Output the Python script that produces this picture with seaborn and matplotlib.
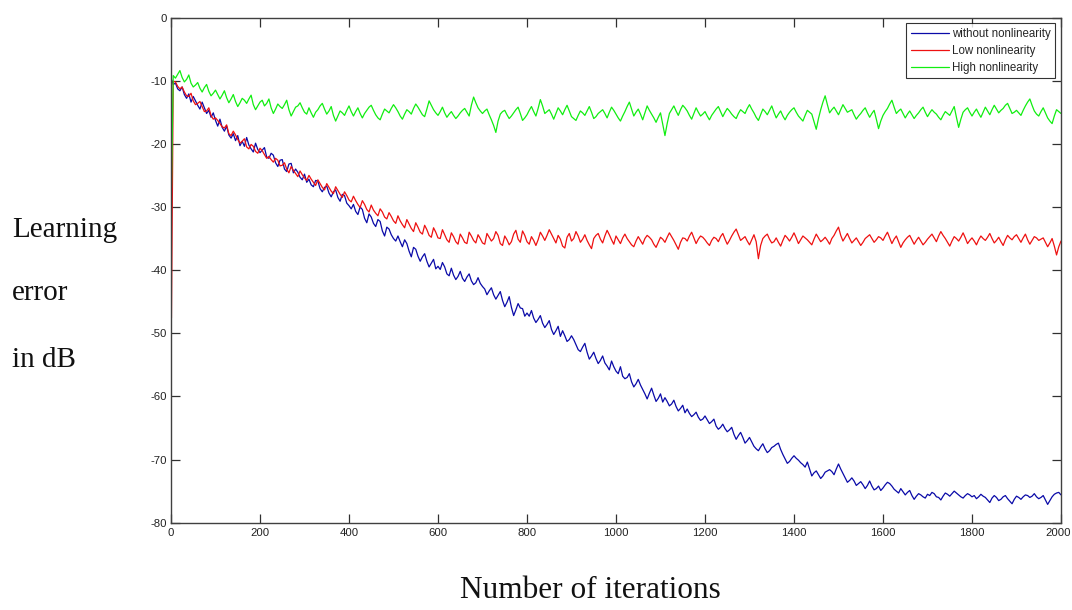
import numpy as np
import pandas as pd
import matplotlib
matplotlib.use("Agg")
import matplotlib.pyplot as plt
import matplotlib.transforms as mtransforms
import seaborn as sns

# ---------------- data ----------------
iterations = [1] + list(range(5, 2001, 5))

series_names = ["without nonlinearity", "Low nonlinearity", "High nonlinearity"]
series_colors = ["#0a0aa8", "#ee1111", "#11ee11"]

without_nl = [
    -9.8,
    -10.6, -10.4, -11.3, -11.6, -11.0, -12.2, -12.8, -12.1, -13.4, -12.5, -13.2, -13.9, -14.5, -13.4, -14.3, -15.2, -14.7, -15.8, -15.1, -16.3,
    -17.2, -16.1, -17.4, -18.0, -17.2, -18.6, -19.1, -18.4, -19.5, -18.7, -20.3, -19.6, -20.4, -19.0, -20.2, -20.8, -21.3, -19.9, -20.9, -21.4,
    -21.0, -20.6, -22.1, -22.3, -21.5, -21.8, -23.0, -23.6, -22.6, -22.5, -24.0, -24.4, -23.2, -23.1, -24.6, -24.0, -24.5, -25.3, -25.7, -24.8,
    -26.1, -25.6, -26.5, -26.8, -25.8, -25.9, -27.1, -27.6, -26.9, -26.7, -27.8, -28.4, -27.6, -27.3, -28.5, -29.1, -28.0, -28.2, -29.4, -29.8,
    -30.3, -29.6, -30.7, -31.2, -30.0, -30.4, -31.8, -32.5, -31.1, -31.6, -32.6, -33.1, -32.0, -32.3, -33.8, -34.6, -33.2, -33.5, -34.4, -35.0,
    -35.4, -34.6, -35.5, -36.3, -35.2, -35.8, -37.0, -37.9, -36.4, -36.7, -37.8, -38.6, -37.9, -37.4, -38.6, -39.5, -38.9, -38.3, -39.8, -39.4,
    -39.9, -38.8, -39.5, -40.6, -40.9, -39.7, -40.8, -41.5, -41.0, -40.2, -41.3, -41.8, -41.1, -40.6, -41.7, -42.3, -42.0, -41.2, -42.1, -42.6,
    -43.0, -43.9, -43.3, -42.8, -43.9, -44.6, -44.0, -43.4, -44.8, -45.8, -45.1, -44.2, -45.9, -47.2, -46.3, -45.3, -46.0, -46.1, -47.3, -46.8,
    -47.3, -46.4, -47.6, -48.3, -47.8, -47.2, -48.4, -49.1, -48.6, -48.0, -49.4, -50.2, -49.6, -48.9, -50.5, -49.6, -50.4, -51.3, -51.0, -50.4,
    -51.0, -51.8, -52.6, -52.9, -52.2, -51.6, -53.0, -54.1, -53.6, -53.0, -54.0, -54.8, -54.3, -53.6, -54.7, -55.2, -55.8, -54.4, -55.3, -56.0,
    -56.4, -55.3, -56.8, -57.2, -57.0, -56.4, -57.7, -58.5, -58.0, -57.3, -58.2, -58.9, -59.6, -60.4, -59.5, -58.7, -59.8, -60.8, -60.3, -59.6,
    -60.9, -60.2, -60.8, -61.5, -61.2, -60.6, -61.6, -62.3, -61.9, -61.4, -62.6, -62.0, -62.7, -63.2, -62.9, -62.5, -63.3, -63.8, -63.6, -63.1,
    -63.7, -64.3, -64.0, -63.6, -64.7, -65.2, -64.9, -64.4, -65.1, -65.6, -65.3, -64.9, -66.0, -66.8, -66.2, -65.7, -66.5, -67.4, -67.0, -66.5,
    -67.2, -67.9, -68.3, -68.6, -68.0, -67.5, -68.3, -68.9, -68.6, -68.1, -67.9, -67.6, -67.4, -68.4, -69.2, -69.9, -70.6, -70.3, -69.8, -69.4,
    -69.8, -70.1, -70.5, -70.8, -71.2, -70.4, -71.5, -72.6, -72.1, -71.8, -72.4, -73.0, -72.6, -72.0, -71.8, -71.6, -71.9, -72.4, -71.5, -70.7,
    -71.5, -72.2, -72.9, -73.6, -73.3, -72.9, -73.4, -74.1, -73.8, -73.5, -74.0, -74.6, -74.1, -73.4, -74.2, -74.8, -74.6, -74.2, -74.9, -74.5,
    -74.0, -73.6, -73.8, -74.2, -74.7, -75.0, -75.3, -74.6, -75.1, -75.6, -75.2, -74.9, -75.7, -76.3, -75.8, -75.4, -75.6, -75.9, -76.1, -75.5,
    -75.7, -75.2, -75.4, -75.9, -76.0, -76.4, -75.8, -75.3, -75.5, -75.8, -75.4, -75.0, -75.3, -75.6, -75.9, -76.1, -75.7, -75.4, -75.6, -75.9,
    -75.7, -76.2, -75.9, -75.5, -75.8, -76.0, -76.4, -76.8, -76.1, -75.7, -76.0, -76.5, -76.3, -75.9, -75.7, -76.2, -76.6, -77.0, -76.3, -75.8,
    -76.0, -76.3, -75.9, -75.6, -75.7, -76.0, -75.8, -75.4, -75.9, -76.2, -76.0, -75.7, -76.4, -77.1, -76.5, -75.9, -75.5, -75.3, -75.2, -75.6,
]

low_nl = [
    -47.6,
    -10.1, -10.2, -10.9, -11.3, -11.0, -11.8, -12.4, -12.5, -12.0, -13.2, -13.8, -13.6, -13.3, -14.1, -14.9, -14.8, -14.3, -15.5, -16.1, -15.9,
    -16.3, -16.8, -17.3, -17.5, -17.0, -18.4, -18.7, -18.0, -18.6, -19.3, -19.9, -19.6, -19.2, -20.5, -20.8, -20.1, -20.4, -21.2, -21.5, -20.7,
    -21.1, -21.7, -22.3, -22.0, -22.5, -22.9, -22.3, -22.6, -23.5, -23.4, -23.0, -24.0, -24.6, -23.6, -24.2, -24.7, -25.2, -24.3, -24.9, -25.4,
    -25.8, -25.0, -25.6, -26.1, -26.6, -25.7, -26.3, -26.9, -27.3, -26.3, -26.9, -27.5, -27.9, -26.8, -27.4, -28.0, -28.5, -27.6, -28.2, -28.9,
    -29.2, -28.3, -29.0, -29.6, -30.1, -29.0, -29.6, -30.4, -30.8, -29.7, -30.5, -31.0, -31.4, -30.3, -30.8, -31.6, -31.9, -30.9, -31.5, -32.2,
    -32.6, -31.4, -32.2, -32.8, -33.3, -32.0, -32.7, -33.4, -33.9, -32.5, -33.2, -34.0, -34.3, -32.9, -33.6, -34.5, -34.8, -33.3, -34.0, -34.9,
    -35.0, -33.6, -34.4, -35.2, -35.6, -34.1, -34.7, -35.5, -35.9, -34.3, -34.9, -35.6, -35.8, -34.0, -34.6, -35.3, -35.7, -34.4, -35.0, -35.7,
    -35.9, -34.2, -34.8, -35.4, -35.0, -33.9, -34.5, -35.8, -36.1, -34.6, -35.2, -36.0, -35.5, -34.3, -33.7, -35.1, -35.6, -33.8, -34.5, -35.5,
    -35.9, -34.7, -35.3, -36.1, -35.2, -34.0, -34.6, -35.3, -34.5, -33.6, -34.3, -35.0, -35.7, -34.5, -35.1, -36.2, -36.5, -34.8, -34.2, -35.4,
    -35.0, -33.9, -34.6, -35.6, -35.1, -34.4, -35.3, -36.0, -36.6, -35.0, -34.5, -34.2, -35.1, -35.7, -34.6, -33.7, -34.4, -35.2, -35.9, -34.6,
    -35.2, -35.8, -34.9, -34.3, -35.0, -35.5, -36.0, -36.3, -35.4, -34.7, -35.3, -35.9, -35.0, -34.5, -34.8, -35.2, -35.9, -36.4, -35.6, -34.8,
    -35.1, -35.6, -34.8, -34.1, -34.7, -35.3, -36.0, -36.7, -35.6, -34.9, -35.0, -35.4, -34.6, -34.0, -34.9, -35.8, -35.1, -34.6, -34.8, -35.2,
    -35.7, -36.1, -35.3, -34.8, -35.0, -35.5, -34.7, -34.2, -35.1, -35.9, -35.3, -34.6, -34.0, -33.5, -34.4, -35.3, -35.0, -34.7, -35.4, -36.0,
    -35.2, -34.4, -35.5, -38.2, -36.1, -35.0, -34.6, -34.3, -35.1, -35.7, -35.5, -34.9, -35.6, -36.2, -35.3, -34.5, -34.9, -35.4, -34.8, -34.1,
    -34.9, -35.8, -35.2, -34.6, -34.9, -35.2, -35.6, -36.0, -35.1, -34.3, -34.9, -35.5, -35.2, -34.8, -35.3, -35.9, -35.0, -34.5, -33.8, -33.2,
    -34.5, -35.4, -34.8, -34.2, -35.0, -35.7, -35.3, -34.9, -35.5, -36.1, -35.6, -35.0, -34.7, -34.4, -35.0, -35.6, -35.2, -34.7, -34.9, -35.3,
    -34.6, -34.0, -34.9, -35.8, -35.1, -34.6, -35.5, -36.4, -35.7, -35.2, -34.8, -34.5, -35.2, -35.9, -35.3, -34.8, -35.4, -36.0, -35.6, -35.1,
    -34.7, -34.3, -34.9, -35.5, -34.6, -33.9, -34.5, -35.0, -35.6, -36.2, -35.4, -34.7, -35.0, -35.4, -34.8, -34.1, -34.9, -35.8, -35.3, -34.9,
    -35.4, -36.0, -35.2, -34.6, -35.0, -35.3, -34.8, -34.2, -35.0, -35.7, -35.3, -34.8, -35.5, -36.1, -35.2, -34.5, -34.9, -35.2, -34.7, -34.4,
    -35.0, -35.6, -34.9, -34.3, -35.2, -35.9, -35.3, -34.7, -34.9, -35.3, -35.1, -34.9, -35.6, -36.3, -35.7, -35.0, -36.2, -37.6, -36.3, -35.4,
]

high_nl = [
    -27.0,
    -9.2, -9.6, -9.0, -8.4, -9.5, -10.2, -9.8, -9.1, -10.4, -11.0, -10.7, -10.3, -11.2, -11.8, -11.1, -10.6, -11.7, -12.4, -12.0, -11.5,
    -12.2, -12.9, -12.3, -11.6, -12.7, -13.5, -12.9, -12.2, -13.3, -14.1, -13.5, -12.8, -13.1, -13.6, -12.9, -12.3, -13.8, -14.6, -14.0, -13.4,
    -13.1, -14.0, -13.6, -12.9, -14.3, -15.2, -14.5, -13.7, -14.1, -14.4, -13.8, -13.1, -14.6, -15.6, -14.9, -14.2, -14.0, -13.5, -14.3, -15.0,
    -15.3, -14.3, -15.1, -15.8, -15.0, -14.6, -14.0, -13.6, -14.5, -15.3, -14.8, -14.1, -15.5, -16.4, -15.6, -14.8, -15.1, -15.5, -14.7, -14.0,
    -14.9, -15.6, -14.9, -14.3, -15.2, -15.9, -15.2, -14.7, -14.2, -13.9, -14.7, -15.4, -15.9, -16.2, -15.3, -14.5, -14.8, -15.1, -14.4, -13.8,
    -14.3, -14.9, -15.6, -16.1, -15.3, -14.6, -14.9, -15.3, -14.4, -13.7, -14.2, -14.8, -15.4, -15.7, -14.5, -13.2, -13.9, -14.6, -15.1, -15.5,
    -14.9, -14.2, -15.1, -15.8, -15.3, -14.9, -15.5, -16.0, -15.6, -15.1, -14.7, -14.4, -15.0, -15.6, -13.9, -12.6, -13.5, -14.3, -14.8, -15.2,
    -14.8, -14.5, -15.4, -16.2, -17.1, -18.2, -16.4, -15.3, -14.9, -14.7, -15.4, -16.0, -15.6, -15.1, -14.6, -14.2, -15.2, -16.3, -15.9, -15.4,
    -14.7, -14.1, -14.9, -15.6, -14.4, -13.0, -14.0, -15.2, -14.9, -14.6, -15.3, -16.1, -15.2, -14.3, -14.8, -15.4, -14.6, -13.9, -14.8, -15.7,
    -16.0, -16.3, -15.5, -14.8, -15.1, -15.5, -14.8, -14.1, -15.0, -16.0, -15.7, -15.2, -14.9, -14.6, -15.2, -15.9, -15.0, -14.2, -14.7, -15.3,
    -15.9, -16.4, -15.6, -14.9, -14.1, -13.4, -14.5, -15.6, -15.0, -14.5, -15.3, -16.2, -15.1, -14.0, -14.7, -15.3, -15.9, -16.6, -15.8, -15.1,
    -16.9, -18.7, -16.8, -15.2, -14.6, -14.0, -14.8, -15.5, -14.6, -13.9, -14.3, -14.8, -15.5, -16.1, -15.2, -14.3, -15.0, -15.6, -15.3, -14.9,
    -15.6, -16.2, -15.5, -15.0, -14.5, -14.1, -14.9, -15.7, -15.0, -14.4, -14.8, -15.3, -15.7, -16.0, -15.2, -14.6, -14.9, -15.2, -14.4, -13.8,
    -14.5, -15.1, -15.8, -16.3, -15.4, -14.5, -14.9, -15.4, -14.7, -14.0, -15.0, -15.9, -15.3, -14.8, -15.6, -16.2, -15.5, -15.0, -14.6, -14.3,
    -15.0, -15.6, -16.0, -16.4, -15.5, -14.7, -15.0, -15.3, -16.5, -17.7, -16.0, -14.6, -13.4, -12.4, -13.8, -15.1, -14.6, -14.2, -14.8, -15.4,
    -14.6, -13.8, -14.4, -15.0, -14.8, -14.6, -15.4, -16.1, -15.6, -15.2, -14.7, -14.3, -15.1, -15.8, -15.2, -14.7, -16.1, -17.6, -16.4, -15.5,
    -14.9, -14.4, -13.7, -13.1, -14.2, -15.2, -14.8, -14.5, -15.2, -15.9, -15.3, -14.8, -15.4, -16.0, -15.5, -15.1, -14.6, -14.2, -15.0, -15.7,
    -15.1, -14.6, -15.0, -15.3, -15.8, -16.2, -15.5, -14.9, -15.2, -15.5, -14.8, -14.1, -15.8, -17.4, -16.1, -15.0, -14.6, -14.3, -15.0, -15.6,
    -15.0, -14.5, -15.2, -15.8, -15.0, -14.2, -14.8, -15.4, -14.6, -13.9, -14.5, -15.1, -14.7, -14.4, -13.9, -13.6, -14.4, -15.2, -15.0, -14.7,
    -15.1, -15.5, -14.7, -14.0, -13.4, -12.9, -13.9, -14.8, -15.3, -15.6, -14.9, -14.3, -15.1, -15.9, -16.4, -16.8, -15.6, -14.6, -14.9, -15.2,
]

x_ticks = [0, 200, 400, 600, 800, 1000, 1200, 1400, 1600, 1800, 2000]
y_ticks = [0, -10, -20, -30, -40, -50, -60, -70, -80]
ylabel_lines = ["Learning", "error", "in dB"]
xlabel_text = "Number of iterations"

# ---------------- build long table ----------------
frames = []
for name, vals in zip(series_names, [without_nl, low_nl, high_nl]):
    frames.append(pd.DataFrame({"iteration": iterations, "error": vals, "series": name}))
df = pd.concat(frames, ignore_index=True)

# ---------------- plot ----------------
sns.set_style("white")
plt.rcParams["font.family"] = ["Liberation Sans", "DejaVu Sans"]

fig = plt.figure(figsize=(10.72, 6.10), dpi=100)
ax = fig.add_axes([171 / 1072, 1 - 522.7 / 610, 890 / 1072, 505.2 / 610])

sns.lineplot(data=df, x="iteration", y="error", hue="series",
             hue_order=series_names, palette=series_colors,
             estimator=None, sort=False, linewidth=0.9, ax=ax)

ax.set_xlim(0, 2000)
ax.set_ylim(-80, 0)
ax.set_xticks(x_ticks)
ax.set_yticks(y_ticks)
ax.set_xticklabels([str(t) for t in x_ticks])
ax.set_yticklabels([str(t) for t in y_ticks])
ax.set_xlabel("")
ax.set_ylabel("")

for sp in ax.spines.values():
    sp.set_visible(True)
    sp.set_color("#404040")
    sp.set_linewidth(1.0)

ax.tick_params(axis="both", which="both", direction="in", length=6.5, width=0.9,
               color="#303030", labelsize=8.2, labelcolor="#222222",
               top=True, right=True, bottom=True, left=True)
ax.tick_params(axis="x", pad=4)
ax.tick_params(axis="y", pad=3)

# keep the rightmost x tick label fully inside the canvas
last_lab = ax.get_xticklabels()[-1]
last_lab.set_transform(last_lab.get_transform() +
                       mtransforms.ScaledTranslation(-2.5 / 100, 0, fig.dpi_scale_trans))

leg = ax.legend(loc="upper right", fontsize=8.3, frameon=True, fancybox=False,
                handlelength=3.3, handletextpad=0.25, borderpad=0.4,
                labelspacing=0.42, borderaxespad=0.5, title=None)
leg.get_frame().set_edgecolor("#000000")
leg.get_frame().set_linewidth(0.8)
for line in leg.get_lines():
    line.set_linewidth(0.9)

# y label as three separate serif lines
ylab_y = [237, 300, 367]
for txt, py in zip(ylabel_lines, ylab_y):
    fig.text(12 / 1072, 1 - py / 610, txt, ha="left", va="baseline",
             fontsize=21, family=["Liberation Serif", "DejaVu Serif"], color="#111111")

fig.text(590 / 1072, 1 - 598 / 610, xlabel_text, ha="center", va="baseline",
         fontsize=22.5, family=["Liberation Serif", "DejaVu Serif"], color="#111111")

fig.savefig("out.png", dpi=100)
